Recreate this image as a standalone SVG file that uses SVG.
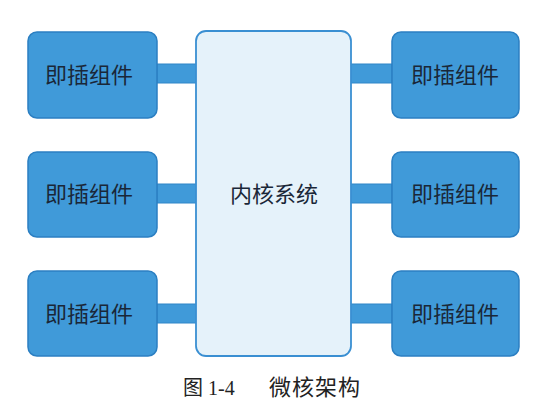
<svg xmlns="http://www.w3.org/2000/svg" width="538" height="415" viewBox="0 0 538 415">
  <style>
    .plug { fill: #409ad9; stroke: #2b7fc2; stroke-width: 1.5; }
    .link { fill: #409ad9; stroke: #2f86c8; stroke-width: 1; }
    .core { fill: #e5f2fa; stroke: #3a8fd2; stroke-width: 1.8; }
    .lbl { font-family: "Noto Sans CJK SC", "Noto Sans", sans-serif; font-size: 22px; fill: #1a2738; text-anchor: middle; }
    .cap { font-family: "Liberation Serif", "Noto Sans CJK SC", serif; fill: #222222; }
  </style>
  <rect width="538" height="415" fill="#ffffff"/>
  <g id="connectors">
    <rect class="link" x="157" y="64" width="40" height="19"/>
    <rect class="link" x="157" y="184" width="40" height="19"/>
    <rect class="link" x="157" y="304" width="40" height="19"/>
    <rect class="link" x="350" y="64" width="42" height="19"/>
    <rect class="link" x="350" y="184" width="42" height="19"/>
    <rect class="link" x="350" y="304" width="42" height="19"/>
  </g>
  <g id="core">
    <rect class="core" x="196" y="31" width="155" height="325" rx="10"/>
    <text class="lbl" x="274" y="202">内核系统</text>
  </g>
  <g id="plug-l1">
    <rect class="plug" x="28" y="32" width="129" height="86" rx="9"/>
    <text class="lbl" x="89" y="83">即插组件</text>
  </g>
  <g id="plug-l2">
    <rect class="plug" x="28" y="152" width="129" height="85" rx="9"/>
    <text class="lbl" x="89" y="202">即插组件</text>
  </g>
  <g id="plug-l3">
    <rect class="plug" x="28" y="271" width="129" height="85" rx="9"/>
    <text class="lbl" x="89" y="322">即插组件</text>
  </g>
  <g id="plug-r1">
    <rect class="plug" x="392" y="32" width="127" height="86" rx="9"/>
    <text class="lbl" x="455" y="83">即插组件</text>
  </g>
  <g id="plug-r2">
    <rect class="plug" x="392" y="152" width="127" height="85" rx="9"/>
    <text class="lbl" x="455" y="202">即插组件</text>
  </g>
  <g id="plug-r3">
    <rect class="plug" x="392" y="271" width="127" height="85" rx="9"/>
    <text class="lbl" x="455" y="322">即插组件</text>
  </g>
  <g id="caption">
    <text class="cap" x="183" y="395" font-size="20">图 1-4</text>
    <text class="cap" x="269" y="395" font-size="22" letter-spacing="1">微核架构</text>
  </g>
</svg>
